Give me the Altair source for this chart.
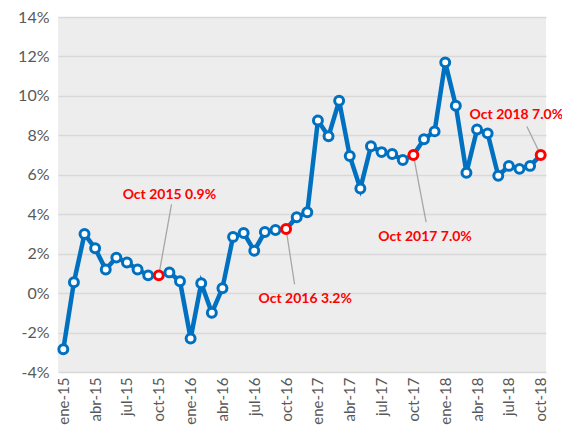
import altair as alt
import pandas as pd

months = ["ene-15","feb-15","mar-15","abr-15","may-15","jun-15","jul-15","ago-15","sep-15","oct-15","nov-15","dic-15",
          "ene-16","feb-16","mar-16","abr-16","may-16","jun-16","jul-16","ago-16","sep-16","oct-16","nov-16","dic-16",
          "ene-17","feb-17","mar-17","abr-17","may-17","jun-17","jul-17","ago-17","sep-17","oct-17","nov-17","dic-17",
          "ene-18","feb-18","mar-18","abr-18","may-18","jun-18","jul-18","ago-18","sep-18","oct-18"]
values = [-2.85, 0.55, 3.0, 2.27, 1.2, 1.8, 1.55, 1.2, 0.9, 0.9, 1.05, 0.6,
          -2.3, 0.5, -1.0, 0.25, 2.85, 3.05, 2.15, 3.1, 3.2, 3.25, 3.85, 4.1,
          8.75, 7.95, 9.75, 6.95, 5.3, 7.45, 7.15, 7.05, 6.75, 7.0, 7.8, 8.2,
          11.7, 9.5, 6.1, 8.3, 8.1, 5.95, 6.45, 6.3, 6.45, 7.0]
highlight = ["oct-15", "oct-16", "oct-17", "oct-18"]

# annotations: text, anchor month index, leader end (x, y) and text position (x, y) in data units
ann_text = ["Oct 2015 0.9%", "Oct 2016 3.2%", "Oct 2017 7.0%", "Oct 2018 7.0%"]
ann_idx = [9, 21, 33, 45]
ann_lx = [10.2, 21.8, 34.2, 43.7]
ann_ly = [4.5, 0.45, 3.6, 8.45]
ann_tx = [10.0, 22.8, 34.1, 38.3]
ann_ty = [5.0, -0.3, 2.85, 9.05]
ann_align = ["center", "center", "center", "left"]

tick_labels = months[::3]

df = pd.DataFrame({"i": list(range(len(months))), "m": months, "v": values})
df["hl"] = df["m"].isin(highlight)

ann = pd.DataFrame({
    "t": ann_text,
    "x": [i for i in ann_idx],
    "y": [values[i] for i in ann_idx],
    "lx": ann_lx, "ly": ann_ly, "tx": ann_tx, "ty": ann_ty, "al": ann_align,
})

label_arr = "[" + ",".join("'" + s + "'" for s in tick_labels) + "]"

xscale = alt.Scale(domain=[-0.5, 45.5], nice=False, zero=False)
yscale = alt.Scale(domain=[-4, 14], nice=False)

xaxis = alt.Axis(values=list(range(0, 46, 3)), labelExpr=label_arr + "[datum.value/3]",
                 labelAngle=-90, labelAlign="right", labelBaseline="middle",
                 labelFont="Lato", labelFontSize=15, labelColor="#595959",
                 labelPadding=5, labelOverlap=False, labelBound=False,
                 ticks=False, domain=False, grid=False, title=None)
yaxis = alt.Axis(values=list(range(-4, 15, 2)), labelExpr="datum.value + '%'",
                 labelFont="Lato", labelFontSize=16, labelColor="#595959",
                 labelPadding=9, labelOverlap=False, labelBound=False,
                 ticks=False, domain=False, title=None,
                 gridColor="#d9d9d9", gridWidth=1.5)


def X(f):
    return alt.X(f, type="quantitative", scale=xscale, axis=xaxis, title=None)


def Y(f):
    return alt.Y(f, type="quantitative", scale=yscale, axis=yaxis, title=None)


line = alt.Chart(df).mark_line(color="#0070C0", strokeWidth=4.5).encode(x=X("i"), y=Y("v"))

leaders = alt.Chart(ann).mark_rule(color="#a6a6a6", strokeWidth=1.3).encode(
    x=X("x"), y=Y("y"), x2="lx:Q", y2="ly:Q")

pts = alt.Chart(df).mark_point(filled=False, fill="white", fillOpacity=1, size=80, strokeWidth=3, opacity=1).encode(
    x=X("i"), y=Y("v"),
    stroke=alt.Stroke("hl:N", scale=alt.Scale(domain=[False, True], range=["#0070C0", "#FF0000"]), legend=None))

texts = []
for al in ["center", "left"]:
    texts.append(alt.Chart(ann).transform_filter(alt.datum.al == al).mark_text(
        color="#FF0000", font="Lato", fontWeight="bold", fontSize=14, align=al, baseline="middle").encode(
        x=X("tx"), y=Y("ty"), text="t:N"))

chart = alt.layer(line, leaders, pts, *texts).properties(
    width=488, height=355,
    autosize=alt.AutoSizeParams(type="none"),
    padding={"left": 50, "top": 9, "right": 16, "bottom": 54},
).configure_view(stroke=None, fill="#ededed").configure_axis(labelOverlap=False)

chart.save("out.html", embed_options={"renderer": "svg", "actions": False})
